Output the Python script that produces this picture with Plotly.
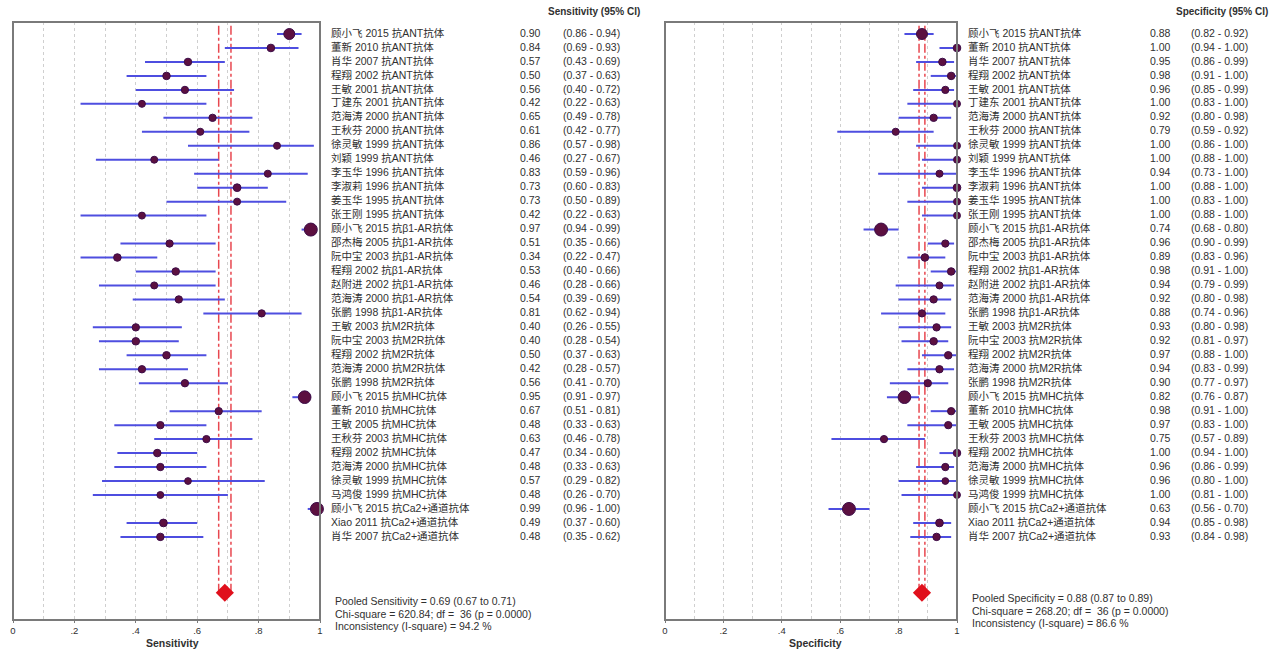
import plotly.graph_objects as go

# ---------------- data ----------------
study_labels = [
    "顾小飞 2015 抗ANT抗体", "董新 2010 抗ANT抗体", "肖华 2007 抗ANT抗体", "程翔 2002 抗ANT抗体",
    "王敏 2001 抗ANT抗体", "丁建东 2001 抗ANT抗体", "范海涛 2000 抗ANT抗体", "王秋芬 2000 抗ANT抗体",
    "徐灵敏 1999 抗ANT抗体", "刘颖 1999 抗ANT抗体", "李玉华 1996 抗ANT抗体", "李淑莉 1996 抗ANT抗体",
    "姜玉华 1995 抗ANT抗体", "张王刚 1995 抗ANT抗体",
    "顾小飞 2015 抗β1-AR抗体", "邵杰梅 2005 抗β1-AR抗体", "阮中宝 2003 抗β1-AR抗体", "程翔 2002 抗β1-AR抗体",
    "赵附进 2002 抗β1-AR抗体", "范海涛 2000 抗β1-AR抗体", "张鹏 1998 抗β1-AR抗体",
    "王敏 2003 抗M2R抗体", "阮中宝 2003 抗M2R抗体", "程翔 2002 抗M2R抗体", "范海涛 2000 抗M2R抗体",
    "张鹏 1998 抗M2R抗体",
    "顾小飞 2015 抗MHC抗体", "董新 2010 抗MHC抗体", "王敏 2005 抗MHC抗体", "王秋芬 2003 抗MHC抗体",
    "程翔 2002 抗MHC抗体", "范海涛 2000 抗MHC抗体", "徐灵敏 1999 抗MHC抗体", "马鸿俊 1999 抗MHC抗体",
    "顾小飞 2015 抗Ca2+通道抗体", "Xiao 2011 抗Ca2+通道抗体", "肖华 2007 抗Ca2+通道抗体",
]

sens = [0.90, 0.84, 0.57, 0.50, 0.56, 0.42, 0.65, 0.61, 0.86, 0.46, 0.83, 0.73, 0.73, 0.42,
        0.97, 0.51, 0.34, 0.53, 0.46, 0.54, 0.81,
        0.40, 0.40, 0.50, 0.42, 0.56,
        0.95, 0.67, 0.48, 0.63, 0.47, 0.48, 0.57, 0.48,
        0.99, 0.49, 0.48]
sens_lo = [0.86, 0.69, 0.43, 0.37, 0.40, 0.22, 0.49, 0.42, 0.57, 0.27, 0.59, 0.60, 0.50, 0.22,
           0.94, 0.35, 0.22, 0.40, 0.28, 0.39, 0.62,
           0.26, 0.28, 0.37, 0.28, 0.41,
           0.91, 0.51, 0.33, 0.46, 0.34, 0.33, 0.29, 0.26,
           0.96, 0.37, 0.35]
sens_hi = [0.94, 0.93, 0.69, 0.63, 0.72, 0.63, 0.78, 0.77, 0.98, 0.67, 0.96, 0.83, 0.89, 0.63,
           0.99, 0.66, 0.47, 0.66, 0.66, 0.69, 0.94,
           0.55, 0.54, 0.63, 0.57, 0.70,
           0.97, 0.81, 0.63, 0.78, 0.60, 0.63, 0.82, 0.70,
           1.00, 0.60, 0.62]

spec = [0.88, 1.00, 0.95, 0.98, 0.96, 1.00, 0.92, 0.79, 1.00, 1.00, 0.94, 1.00, 1.00, 1.00,
        0.74, 0.96, 0.89, 0.98, 0.94, 0.92, 0.88,
        0.93, 0.92, 0.97, 0.94, 0.90,
        0.82, 0.98, 0.97, 0.75, 1.00, 0.96, 0.96, 1.00,
        0.63, 0.94, 0.93]
spec_lo = [0.82, 0.94, 0.86, 0.91, 0.85, 0.83, 0.80, 0.59, 0.86, 0.88, 0.73, 0.88, 0.83, 0.88,
           0.68, 0.90, 0.83, 0.91, 0.79, 0.80, 0.74,
           0.80, 0.81, 0.88, 0.83, 0.77,
           0.76, 0.91, 0.83, 0.57, 0.94, 0.86, 0.80, 0.81,
           0.56, 0.85, 0.84]
spec_hi = [0.92, 1.00, 0.99, 1.00, 0.99, 1.00, 0.98, 0.92, 1.00, 1.00, 1.00, 1.00, 1.00, 1.00,
           0.80, 0.99, 0.96, 1.00, 0.99, 0.98, 0.96,
           0.98, 0.97, 1.00, 0.99, 0.97,
           0.87, 1.00, 1.00, 0.89, 1.00, 0.99, 1.00, 1.00,
           0.70, 0.98, 0.98]

pooled_sens = [0.69, 0.67, 0.71]
pooled_spec = [0.88, 0.87, 0.89]
sens_stats = ["Pooled Sensitivity = 0.69 (0.67 to 0.71)",
              "Chi-square = 620.84; df =  36 (p = 0.0000)",
              "Inconsistency (I-square) = 94.2 %"]
spec_stats = ["Pooled Specificity = 0.88 (0.87 to 0.89)",
              "Chi-square = 268.20; df =  36 (p = 0.0000)",
              "Inconsistency (I-square) = 86.6 %"]
tick_vals = [0, 0.2, 0.4, 0.6, 0.8, 1]
tick_text = ["0", ".2", ".4", ".6", ".8", "1"]

# ---------------- layout helpers ----------------
W, H = 1288, 650
FONT = "Liberation Sans, Arial, Noto Sans CJK SC, sans-serif"
TXT = "#303030"
n = len(study_labels)
rows = list(range(1, n + 1))
pool_row = n + 4
y_top, y_bot = 0.14, 42.95

# marker size from study precision (sensitivity CI width)
msize = [min(13, 6 + 0.4 / (h - l)) for l, h in zip(sens_lo, sens_hi)]

fig = go.Figure()


def add_panel(xa, vals, lo, hi, pooled):
    for v in pooled[1:]:
        fig.add_trace(go.Scatter(x=[v, v], y=[pool_row, y_top], mode="lines",
                                 line=dict(color="#e8474f", width=1.5, dash="dashdot"),
                                 xaxis=xa, yaxis="y", hoverinfo="skip", showlegend=False))
    fig.add_trace(go.Scatter(
        x=vals, y=rows, mode="markers", xaxis=xa, yaxis="y", showlegend=False,
        cliponaxis=False, opacity=1,
        marker=dict(size=msize, color="#5c1040", opacity=1, line=dict(color="#3c0c48", width=1)),
        error_x=dict(type="data", symmetric=False,
                     array=[h - v for v, h in zip(vals, hi)],
                     arrayminus=[v - l for v, l in zip(vals, lo)],
                     color="#4e4ee0", thickness=2, width=0)))
    fig.add_trace(go.Scatter(x=[pooled[0]], y=[pool_row], mode="markers", xaxis=xa, yaxis="y",
                             marker=dict(symbol="diamond", size=14, color="#e0101c", opacity=1),
                             showlegend=False, cliponaxis=False))


add_panel("x", sens, sens_lo, sens_hi, pooled_sens)
add_panel("x3", spec, spec_lo, spec_hi, pooled_spec)


def add_text_col(xpix, texts, size=10.5):
    fig.add_trace(go.Scatter(x=[xpix] * len(texts), y=rows, mode="text", text=texts,
                             textposition="middle right", xaxis="x2", yaxis="y",
                             textfont=dict(family=FONT, size=size, color=TXT),
                             cliponaxis=False, hoverinfo="skip", showlegend=False))


add_text_col(331, study_labels)
add_text_col(520, [f"{v:.2f}" for v in sens])
add_text_col(563, [f"({l:.2f} - {h:.2f})" for l, h in zip(sens_lo, sens_hi)])
add_text_col(968, study_labels)
add_text_col(1150, [f"{v:.2f}" for v in spec])
add_text_col(1191, [f"({l:.2f} - {h:.2f})" for l, h in zip(spec_lo, spec_hi)])

annotations = [
    dict(x=642 / W, y=1 - 12 / H, xref="paper", yref="paper", xanchor="right", yanchor="middle",
         text="<b>Sensitivity (95% CI)</b>", showarrow=False,
         font=dict(family=FONT, size=10, color=TXT)),
    dict(x=1270 / W, y=1 - 12 / H, xref="paper", yref="paper", xanchor="right", yanchor="middle",
         text="<b>Specificity (95% CI)</b>", showarrow=False,
         font=dict(family=FONT, size=10, color=TXT)),
    dict(x=172 / W, y=1 - 643 / H, xref="paper", yref="paper", xanchor="center", yanchor="middle",
         text="<b>Sensitivity</b>", showarrow=False,
         font=dict(family=FONT, size=10.5, color=TXT)),
    dict(x=815 / W, y=1 - 643 / H, xref="paper", yref="paper", xanchor="center", yanchor="middle",
         text="<b>Specificity</b>", showarrow=False,
         font=dict(family=FONT, size=10.5, color=TXT)),
]
for i, s in enumerate(sens_stats):
    annotations.append(dict(x=333 / W, y=1 - (601 + 12.5 * i) / H, xref="paper", yref="paper",
                            xanchor="left", yanchor="middle", text=s, showarrow=False,
                            font=dict(family=FONT, size=10.5, color=TXT)))
for i, s in enumerate(spec_stats):
    annotations.append(dict(x=970 / W, y=1 - (598 + 12.5 * i) / H, xref="paper", yref="paper",
                            xanchor="left", yanchor="middle", text=s, showarrow=False,
                            font=dict(family=FONT, size=10.5, color=TXT)))

frame = dict(color="#7a7a7a", width=2)
shapes = [
    dict(type="rect", xref="x domain", yref="y domain", x0=0, x1=1, y0=0, y1=1, line=frame, layer="above"),
    dict(type="rect", xref="x3 domain", yref="y domain", x0=0, x1=1, y0=0, y1=1, line=frame, layer="above"),
]

axis_common = dict(range=[0, 1], tickvals=tick_vals, ticktext=tick_text, showgrid=True,
                   gridcolor="#cfcfcf", griddash="dot", gridwidth=1,
                   minor=dict(dtick=0.1, tick0=0, showgrid=True, gridcolor="#cfcfcf", griddash="dot", ticks=""),
                   zeroline=False, showline=False, ticks="outside", ticklen=2, tickcolor="#7a7a7a",
                   tickfont=dict(family=FONT, size=9.5, color=TXT), anchor="y", fixedrange=True)

fig.update_layout(
    width=W, height=H, margin=dict(l=0, r=0, t=0, b=0, autoexpand=False),
    paper_bgcolor="white", plot_bgcolor="rgba(0,0,0,0)",
    xaxis=dict(domain=[13 / W, 320 / W], **axis_common),
    xaxis3=dict(domain=[665 / W, 957 / W], **axis_common),
    xaxis2=dict(domain=[0, 1], range=[0, W], visible=False, anchor="y", fixedrange=True),
    yaxis=dict(domain=[1 - 620 / H, 1 - 22 / H], range=[y_bot, y_top], visible=False, fixedrange=True),
    annotations=annotations, shapes=shapes, showlegend=False,
)

fig.write_html("out.html", config={"displayModeBar": False},
               post_script="document.body.style.margin='0px';document.body.style.overflow='hidden';")
